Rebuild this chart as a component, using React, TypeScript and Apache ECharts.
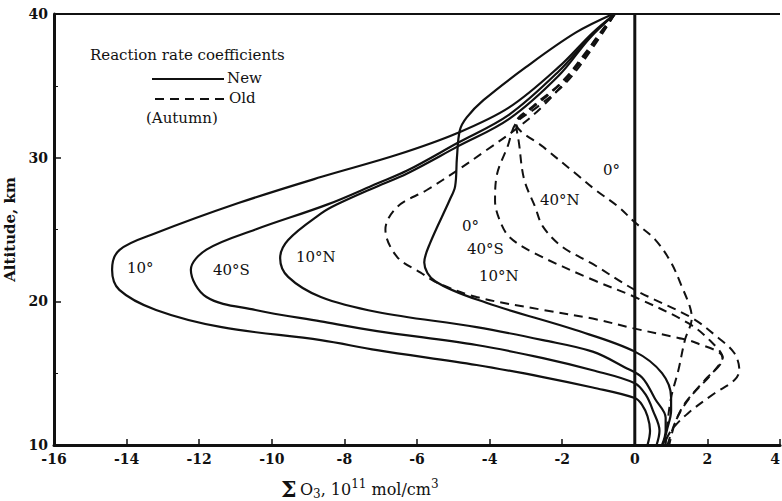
import React, { useEffect, useRef } from "react";
import * as echarts from "echarts";

// Tick values
const xTicks = { min: -16, max: 4, interval: 2 };
const yTicks = { min: 10, max: 40, interval: 10 };

// "New" reaction rate coefficients (solid curves), [Σ O3, altitude km]
const new10: number[][] = [
  [-0.55, 40], [-1.16, 38.7], [-2.1, 36.3], [-3.46, 33.5], [-4.9, 31.7], [-6.55, 30.2],
  [-8.65, 28.65], [-10.92, 26.84], [-13.19, 24.75], [-14.2, 23.57], [-14.4, 22.2],
  [-14.2, 20.8], [-13.19, 19.4], [-11.38, 18.2], [-8.65, 17.3], [-7.1, 16.6],
  [-4.36, 15.57], [-2.53, 14.73], [-1.16, 14.0], [0, 13.27], [0.2, 12.8], [0.35, 12.0],
  [0.42, 11.0], [0.35, 10],
];
const new40S: number[][] = [
  [-0.55, 40], [-1.2, 38.5], [-2.1, 36.0], [-3.46, 33.0], [-4.9, 31.0], [-6.27, 29.1],
  [-7.1, 28.2], [-8.46, 26.75], [-10.45, 25.0], [-11.8, 23.6], [-12.23, 22.2],
  [-11.8, 20.3], [-10.45, 19.4], [-8.65, 18.6], [-7.1, 17.93], [-4.36, 16.96],
  [-2.53, 16.05], [-1.16, 15.2], [0, 14.3], [0.3, 13.5], [0.5, 12.4], [0.68, 11.0],
  [0.6, 10],
];
const new10N: number[][] = [
  [-0.55, 40], [-1.25, 38.3], [-2.1, 35.7], [-3.46, 32.7], [-4.9, 30.75], [-6.27, 28.9],
  [-7.1, 28.0], [-8.2, 26.75], [-8.65, 26.1], [-9.55, 24.27], [-9.77, 23.0],
  [-9.55, 21.7], [-8.65, 20.3], [-7.1, 19.26], [-4.36, 18.2], [-2.53, 17.3],
  [-1.16, 16.5], [-0.27, 15.4], [0.2, 14.7], [0.56, 13.2], [0.85, 11.9], [0.85, 11.0],
  [0.75, 10],
];
const new0: number[][] = [
  [-0.6, 40], [-1.63, 38.7], [-3.0, 36.3], [-4.17, 34.0], [-4.63, 32.8], [-4.82, 31.9],
  [-4.9, 30.0], [-4.95, 28.0], [-5.1, 27.05], [-5.64, 24.05], [-5.8, 22.7], [-5.5, 21.4],
  [-4.09, 19.9], [-1.63, 18.0], [0, 16.5], [0.75, 15.0], [1.0, 13.3], [1.0, 12.4],
  [0.88, 11.0], [0.78, 10],
];

// "Old" reaction rate coefficients (dashed curves)
const old10N: number[][] = [
  [-0.55, 40], [-1.1, 38.2], [-1.63, 36.2], [-2.53, 33.6], [-3.27, 32.0], [-4.1, 30.5],
  [-4.9, 29.1], [-5.73, 27.75], [-6.55, 26.56], [-6.87, 25.0], [-6.55, 23.1],
  [-5.9, 22.0], [-5.45, 21.3], [-4.36, 20.3], [-2.53, 19.4], [-1.16, 18.8], [0, 18.1],
  [1.2, 17.45], [1.7, 17.1], [2.42, 16.1], [2.1, 14.9], [1.55, 13.4], [1.15, 11.8],
  [0.95, 10],
];
const old40S: number[][] = [
  [-0.55, 40], [-1.2, 37.5], [-1.9, 35.2], [-2.7, 33.5], [-3.27, 32.4], [-3.5, 30.8],
  [-3.8, 28.8], [-3.85, 27.0], [-3.73, 25.7], [-3.46, 24.5], [-2.8, 23.4], [-1.16, 21.5],
  [0, 20.3], [1.46, 18.5], [2.1, 17.2], [2.42, 16.05], [1.92, 14.5], [1.38, 12.9],
  [1.1, 11.5], [0.9, 10],
];
const old40N: number[][] = [
  [-0.55, 40], [-1.3, 37.5], [-2.0, 35.3], [-2.8, 33.6], [-3.27, 32.4], [-3.19, 31.0],
  [-3.05, 28.5], [-2.75, 26.6], [-2.53, 25.2], [-2.0, 23.8], [-1.16, 22.6], [0, 20.8],
  [1.57, 18.85], [2.28, 17.5], [2.74, 16.4], [2.88, 15.2], [2.74, 14.5], [2.2, 13.6],
  [1.46, 12.2], [1.0, 11.0], [0.8, 10],
];
const old0: number[][] = [
  [-0.55, 40], [-1.3, 37.3], [-2.1, 35.0], [-2.9, 33.3], [-3.27, 32.4], [-2.5, 30.7],
  [-1.63, 28.9], [-1.08, 27.75], [-0.46, 26.6], [0, 25.5], [0.56, 24.3], [1.0, 22.7],
  [1.3, 21.0], [1.52, 19.6], [1.57, 18.85], [1.38, 17.3], [1.2, 15.2], [1.0, 13.3],
  [0.9, 11.5], [0.85, 10],
];
const zeroLine: number[][] = [[0, 10], [0, 40]];
const topBorder: number[][] = [[-16, 40], [4, 40]];

const INK = "#111";
const SERIF = "'DejaVu Serif', serif";

export default function App() {
  const ref = useRef<HTMLDivElement>(null);
  useEffect(() => {
    document.body.style.margin = "0";
    const chart = echarts.init(ref.current!, null, { renderer: "svg" });
    const solid = (name: string, data: number[][]) => ({
      name, type: "line", data, smooth: 0.35, symbol: "none", silent: true,
      lineStyle: { color: INK, width: 2.2, type: "solid" },
    });
    const dashed = (name: string, data: number[][]) => ({
      name, type: "line", data, smooth: 0.35, symbol: "none", silent: true,
      lineStyle: { color: INK, width: 2, type: [9, 6] },
    });
    const lbl = (text: string, x: number, y: number, size = 15) => ({
      type: "text", x, y,
      style: { text, fill: INK, font: `${size}px ${SERIF}`, textVerticalAlign: "middle" },
    });
    chart.setOption({
      animation: false,
      backgroundColor: "#fff",
      grid: { left: 54, top: 14, width: 726, height: 431, containLabel: false, outerBoundsMode: "none" },
      xAxis: {
        type: "value", min: xTicks.min, max: xTicks.max, interval: xTicks.interval,
        axisLine: { show: true, onZero: false, lineStyle: { color: INK, width: 3 } },
        axisTick: { show: true, inside: true, length: 6, lineStyle: { color: INK, width: 1.5 } },
        axisLabel: { color: INK, fontFamily: SERIF, fontWeight: "bold", fontSize: 14, margin: 7, alignMaxLabel: "right" },
        splitLine: { show: false },
      },
      yAxis: {
        type: "value", min: yTicks.min, max: yTicks.max, interval: yTicks.interval,
        axisLine: { show: true, onZero: false, lineStyle: { color: INK, width: 3 } },
        axisTick: { show: true, inside: true, length: 7, lineStyle: { color: INK, width: 1.5 } },
        minorTick: { show: true, splitNumber: 2, length: 4, lineStyle: { color: INK, width: 1 } },
        axisLabel: { color: INK, fontFamily: SERIF, fontWeight: "bold", fontSize: 14, margin: 6 },
        splitLine: { show: false },
        name: "Altitude, km", nameLocation: "middle", nameGap: 32, nameRotate: 90,
        nameTextStyle: { color: INK, fontFamily: SERIF, fontWeight: "bold", fontSize: 15 },
      },
      series: [
        { type: "line", data: zeroLine, symbol: "none", silent: true, lineStyle: { color: INK, width: 3 } },
        { type: "line", data: topBorder, symbol: "none", silent: true, lineStyle: { color: INK, width: 2 } },
        solid("New 10°", new10),
        solid("New 40°S", new40S),
        solid("New 10°N", new10N),
        solid("New 0°", new0),
        dashed("Old 10°N", old10N),
        dashed("Old 40°S", old40S),
        dashed("Old 40°N", old40N),
        dashed("Old 0°", old0),
      ],
      graphic: [
        lbl("Reaction rate coefficients", 90, 55, 15),
        { type: "line", shape: { x1: 152, y1: 79, x2: 224, y2: 79 }, style: { stroke: INK, lineWidth: 2.2 } },
        lbl("New", 227, 78, 15),
        { type: "line", shape: { x1: 155, y1: 99, x2: 224, y2: 99 }, style: { stroke: INK, lineWidth: 2, lineDash: [9, 6] } },
        lbl("Old", 229, 98, 15),
        lbl("(Autumn)", 146, 118, 15),
        lbl("10°", 127, 268, 15),
        lbl("40°S", 213, 270, 15),
        lbl("10°N", 296, 257, 15),
        lbl("0°", 462, 226, 15),
        lbl("40°S", 467, 249, 15),
        lbl("10°N", 479, 276, 15),
        lbl("40°N", 540, 200, 15),
        lbl("0°", 603, 170, 15),
        {
          type: "text", x: 281, y: 489,
          style: {
            text: "{s|Σ} {b|O}{sub|3}{b|, 10}{sup|11}{b| mol/cm}{sup|3}",
            fill: INK, textVerticalAlign: "middle",
            rich: {
              s: { font: `bold 22px ${SERIF}`, fill: INK },
              b: { font: `16px ${SERIF}`, fill: INK },
              sub: { font: `12px ${SERIF}`, fill: INK, verticalAlign: "bottom", padding: [8, 0, 0, 0] },
              sup: { font: `12px ${SERIF}`, fill: INK, verticalAlign: "top", padding: [0, 0, 8, 0] },
            },
          },
        },
      ],
    });
    return () => chart.dispose();
  }, []);
  return <div ref={ref} style={{ width: 782, height: 501 }} />;
}
